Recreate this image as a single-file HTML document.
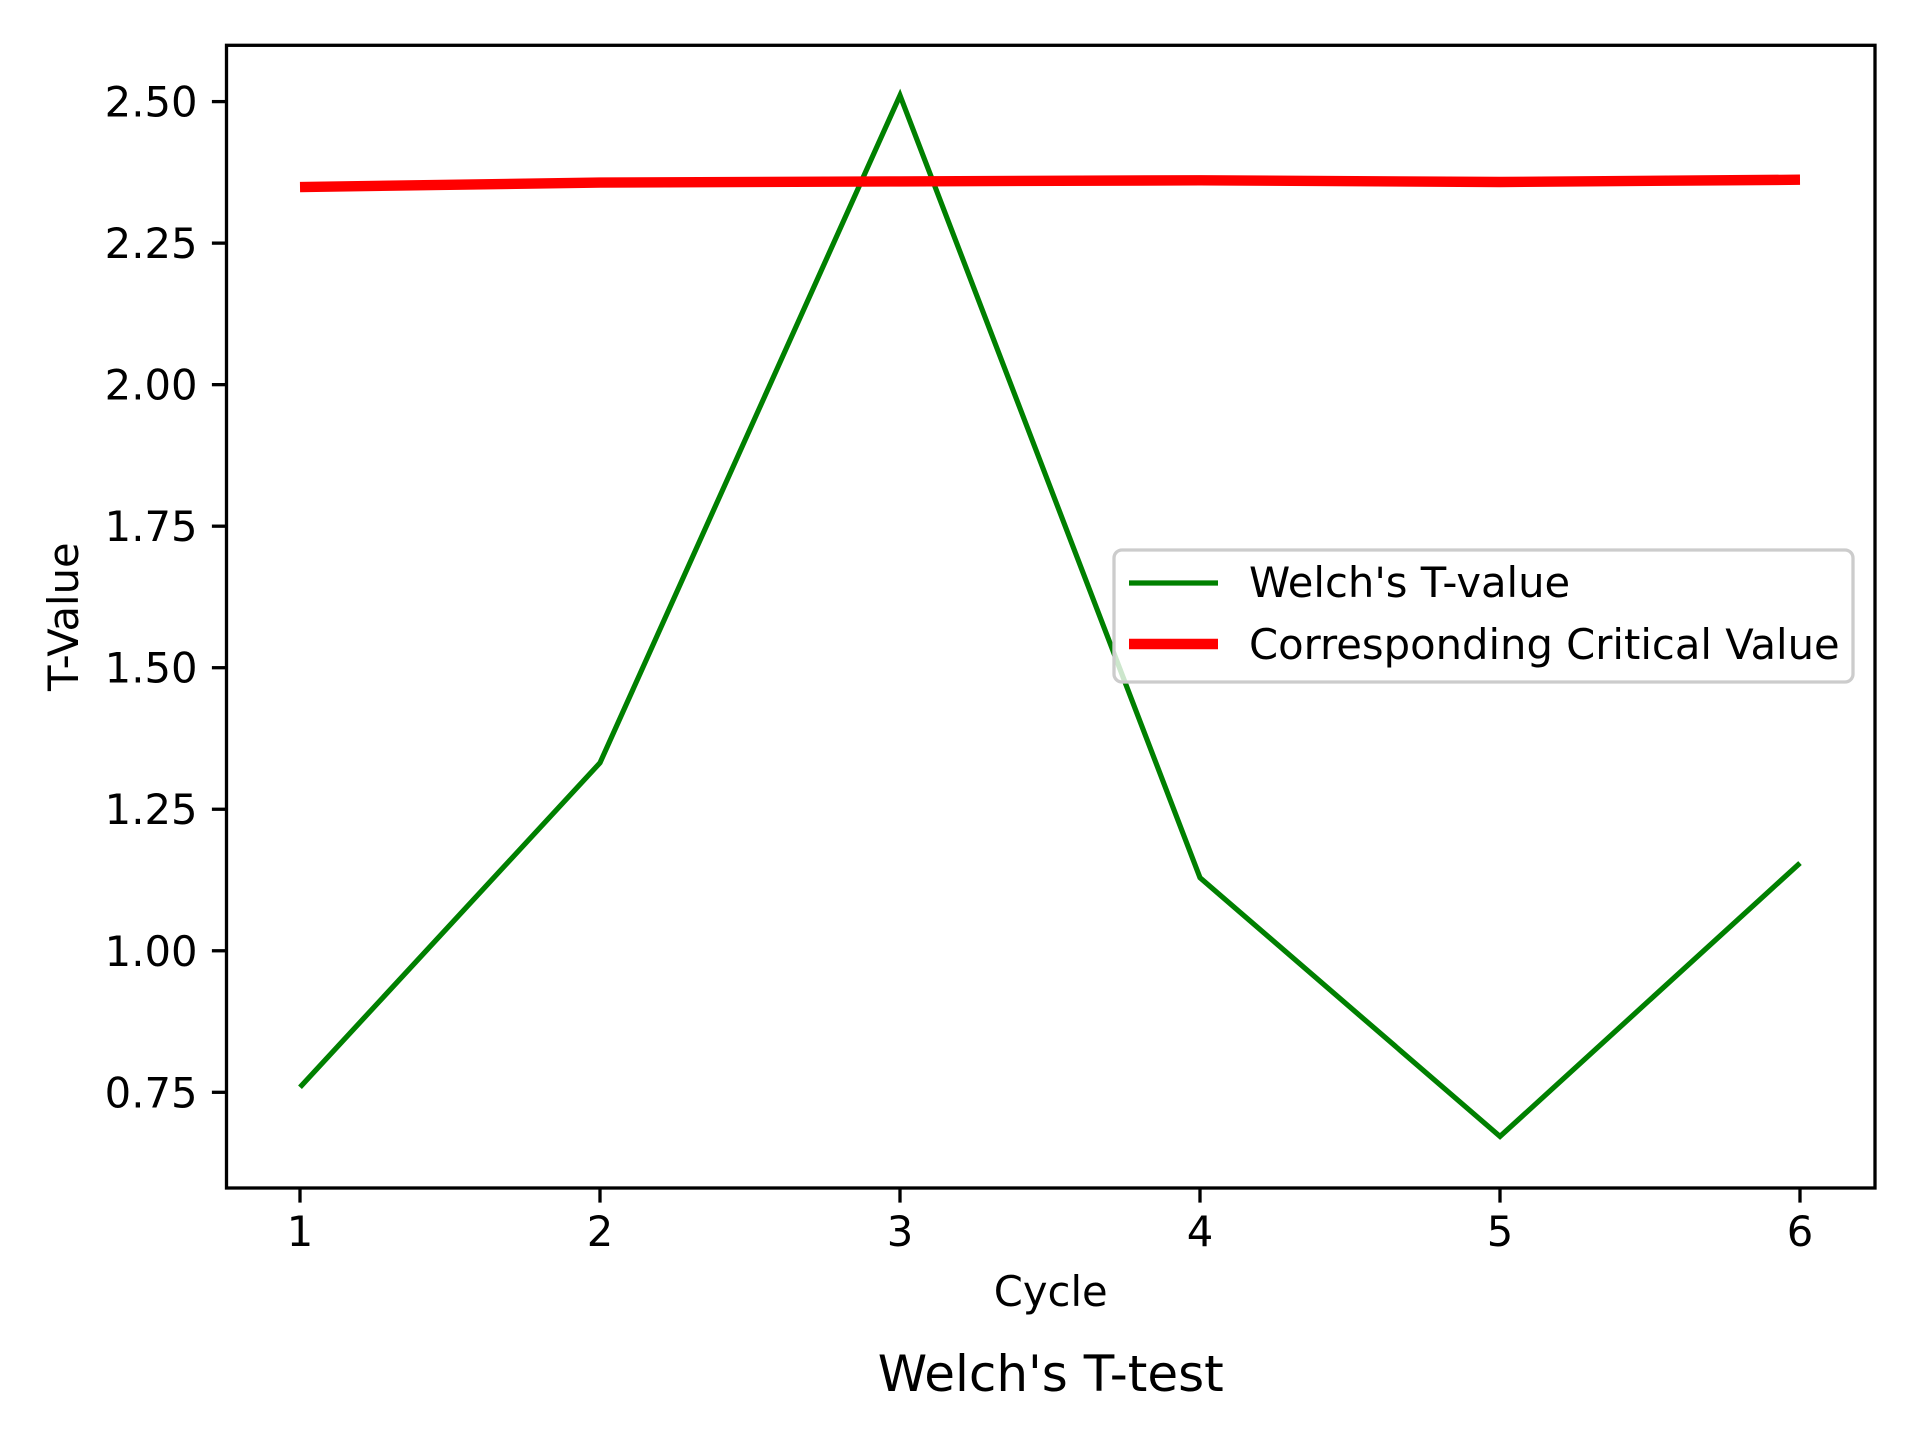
<!DOCTYPE html>
<html><head><meta charset="utf-8"><style>html,body{margin:0;padding:0;background:#fff}svg{display:block}text{font-family:"DejaVu Sans","Liberation Sans",sans-serif;fill:#000}</style></head>
<body>
<svg id="chart" width="1920" height="1440" viewBox="0 0 1920 1440" xmlns="http://www.w3.org/2000/svg"></svg>
<script>
const cycles = [1, 2, 3, 4, 5, 6];
const welchT = [0.759, 1.332, 2.511, 1.129, 0.672, 1.155];
const criticalValues = [2.349, 2.357, 2.359, 2.361, 2.358, 2.362];
const yTicks = [0.75, 1.00, 1.25, 1.50, 1.75, 2.00, 2.25, 2.50];
const yTickLabels = ["0.75", "1.00", "1.25", "1.50", "1.75", "2.00", "2.25", "2.50"];
const xTickLabels = ["1", "2", "3", "4", "5", "6"];

const NS = "http://www.w3.org/2000/svg";
const svg = document.getElementById("chart");
const L = 226.5, R = 1875, T = 45.3, B = 1188;
function xS(v){ return 300 + (v - 1) * 300; }
function yS(v){ return 1092.3 - (v - 0.75) * (990.7 / 1.75); }
function mk(tag, attrs, parent){ const e = document.createElementNS(NS, tag); for (const k in attrs) e.setAttribute(k, attrs[k]); (parent || svg).appendChild(e); return e; }

const gx = mk("g", {});


cycles.forEach((c, i) => {
  const t = mk("line", {x1: xS(c), x2: xS(c), y1: B, y2: B + 14.6, stroke: "#000", "stroke-width": 3.3}, gx);
  
  
  const lb = mk("text", {x: xS(c), y: B + 58, "font-size": 41.7, "text-anchor": "middle"}, gx);
  lb.textContent = xTickLabels[i];
  
  
});
const gy = mk("g", {});


yTicks.forEach((v, i) => {
  const t = mk("line", {x1: L - 14.6, x2: L, y1: yS(v), y2: yS(v), stroke: "#000", "stroke-width": 3.3}, gy);
  
  
  const lb = mk("text", {x: L - 29, y: yS(v) + 15, "font-size": 41.7, "text-anchor": "end"}, gy);
  lb.textContent = yTickLabels[i];
  
  
});

const gp = mk("polyline", {points: cycles.map((c, i) => xS(c) + "," + yS(welchT[i])).join(" "), fill: "none", stroke: "#008000", "stroke-width": 5.2});


const rp = mk("polyline", {points: cycles.map((c, i) => xS(c) + "," + yS(criticalValues[i])).join(" "), fill: "none", stroke: "#ff0000", "stroke-width": 10.4});



const frame = mk("rect", {x: L, y: T, width: R - L, height: B - T, fill: "none", stroke: "#000", "stroke-width": 3.3});



const lg = mk("g", {});


mk("rect", {x: 1114, y: 550, width: 739, height: 132, rx: 8, fill: "#fff", "fill-opacity": 0.8, stroke: "#ccc", "stroke-width": 3.3}, lg);
const l1 = mk("line", {x1: 1129, x2: 1218, y1: 583, y2: 583, stroke: "#008000", "stroke-width": 5.2}, lg);


const t1 = mk("text", {x: 1249, y: 597, "font-size": 41.7}, lg);
t1.textContent = "Welch's T-value";


const l2 = mk("line", {x1: 1129, x2: 1218, y1: 644, y2: 644, stroke: "#ff0000", "stroke-width": 10.4}, lg);


const t2 = mk("text", {x: 1249, y: 659, "font-size": 41.7}, lg);
t2.textContent = "Corresponding Critical Value";



const xt = mk("text", {x: (L + R) / 2, y: 1306, "font-size": 41.7, "text-anchor": "middle"});
xt.textContent = "Cycle";


const yt = mk("text", {x: 0, y: 0, "font-size": 41.7, "text-anchor": "middle", transform: "translate(78," + ((T + B) / 2) + ") rotate(-90)"});
yt.textContent = "T-Value";


const tt = mk("text", {x: (L + R) / 2, y: 1391, "font-size": 50, "text-anchor": "middle"});
tt.textContent = "Welch's T-test";


</script>
</body></html>
